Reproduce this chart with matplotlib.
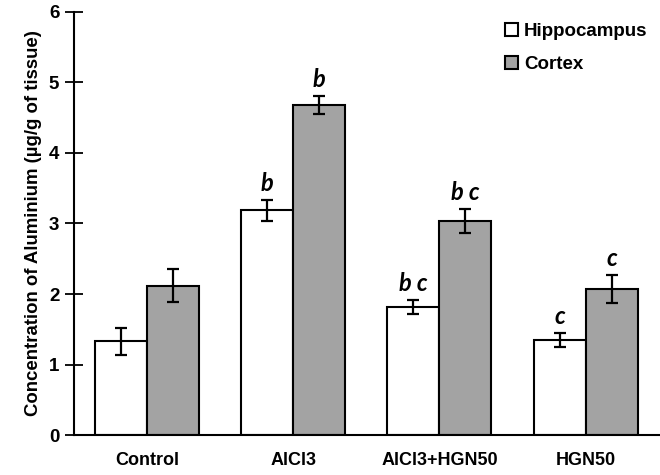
import matplotlib.pyplot as plt
import numpy as np
from matplotlib.patches import Patch

plt.rcParams["font.family"] = ["Liberation Sans", "DejaVu Sans"]
plt.rcParams["font.weight"] = "bold"

groups = ["Control", "AlCl3", "AlCl3+HGN50", "HGN50"]
hippocampus = [1.33, 3.19, 1.81, 1.35]
hippocampus_err = [0.19, 0.15, 0.10, 0.10]
cortex = [2.12, 4.68, 3.03, 2.07]
cortex_err = [0.23, 0.13, 0.17, 0.20]
hippo_marks = ["", "b", "b c", "c"]
cortex_marks = ["", "b", "b c", "c"]

fig = plt.figure(figsize=(6.6, 4.75), dpi=100)
ax = fig.add_axes([0.112, 0.084, 0.886, 0.891])

x = np.arange(len(groups))
w = 0.356
err_kw = dict(ecolor="black", elinewidth=1.6, capsize=4.5, capthick=1.6)

ax.bar(x - w / 2, hippocampus, w, yerr=hippocampus_err, color="white",
       edgecolor="black", linewidth=1.5, error_kw=err_kw, label="Hippocampus")
ax.bar(x + w / 2, cortex, w, yerr=cortex_err, color="#a3a3a3",
       edgecolor="black", linewidth=1.5, error_kw=err_kw, label="Cortex")

for i in range(len(groups)):
    for xs, v, e, m in [(x[i] - w / 2, hippocampus[i], hippocampus_err[i], hippo_marks[i]),
                        (x[i] + w / 2, cortex[i], cortex_err[i], cortex_marks[i])]:
        if m:
            ax.text(xs, v + e + 0.07, m, ha="center", va="bottom", fontsize=17,
                    fontweight="bold", fontstyle="italic", family=["Lato", "DejaVu Sans"])

ax.set_xlim(-0.5, 3.5)
ax.set_ylim(0, 6)
ax.set_yticks(range(7))
ax.set_xticks(x)
ax.set_xticklabels(groups, fontsize=13, fontweight="bold")
ax.tick_params(axis="x", length=0, pad=12)
ax.tick_params(axis="y", direction="inout", length=13, width=1.3, labelsize=13.5, pad=4)
for lab in ax.get_yticklabels():
    lab.set_fontweight("bold")
ax.spines["top"].set_visible(False)
ax.spines["right"].set_visible(False)
ax.spines["left"].set_linewidth(1.5)
ax.spines["bottom"].set_linewidth(1.5)
ax.set_ylabel("Concentration of Aluminium (µg/g of tissue)", fontsize=13.4,
              fontweight="bold", labelpad=5)

handles = [Patch(facecolor="white", edgecolor="black", linewidth=1.5),
           Patch(facecolor="#a3a3a3", edgecolor="black", linewidth=1.5)]
ax.legend(handles, ["Hippocampus", "Cortex"], loc="upper right",
          bbox_to_anchor=(1.0, 1.0), frameon=False, fontsize=13.5,
          handlelength=0.7, handleheight=0.7, handletextpad=0.3, labelspacing=0.85,
          borderaxespad=0.2)

fig.savefig("out.png", dpi=100)
